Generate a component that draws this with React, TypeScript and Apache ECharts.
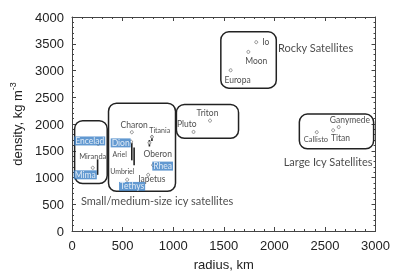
import React, { useEffect, useRef } from 'react';
import * as echarts from 'echarts';

// Satellite points (radius km, density kg m^-3)
const moonNames = ['Io', 'Moon', 'Europa', 'Triton', 'Pluto', 'Ganymede', 'Titan', 'Callisto', 'Charon', 'Dione', 'Tethys', 'Rhea', 'Iapetus', 'Enceladus', 'Mimas', 'Titania', 'Oberon'];
const moonRadius = [1821, 1743, 1568, 1364, 1201, 2636, 2581, 2419, 591, 584, 545, 802, 753, 260, 205, 790, 765];
const moonDensity = [3529, 3348, 3004, 2063, 1852, 1942, 1882, 1846, 1846, 1670, 959, 1231, 1050, 1629, 1182, 1760, 1650];

// Vertical uncertainty bars
const barRadius = [253, 591, 614, 765, 790];
const barLow = [1050, 1321, 1231, 1580, 1680];
const barHigh = [1340, 1652, 1562, 1700, 1790];

// Group boxes (data coords)
const groupLeft = [26, 361, 1032, 1471, 2247];
const groupRight = [348, 1023, 1646, 2019, 2981];
const groupTop = [2063, 2389, 2366, 3723, 2185];
const groupBottom = [887, 742, 1732, 2670, 1537];

// Point name labels (data coords)
const labelNames = ['Io', 'Moon', 'Europa', 'Triton', 'Pluto', 'Ganymede', 'Titan', 'Callisto', 'Charon', 'Titania', 'Oberon', 'Ariel', 'Umbriel', 'Iapetus', 'Miranda'];
const labelX = [1880, 1821, 1636, 1339, 1135, 2747, 2654, 2411, 614, 867, 847, 472, 497, 789, 205];
const labelY = [3529, 3186, 2824, 2214, 1991, 2082, 1738, 1701, 1973, 1882, 1430, 1448, 1128, 977, 1399];

// Highlighted labels
const hiNames = ['Encelad', 'Dion', 'Mima', 'Tethys', 'Rhea'];
const hiX = [175, 481, 131, 594, 896];
const hiY = [1683, 1647, 1050, 833, 1213];

// Group titles
const groupNames = ['Rocky Satellites', 'Large Icy Satellites', 'Small/medium-size icy satellites'];
const groupX = [2036, 2971, 88];
const groupY = [3421, 1303, 579];
const groupAlign = ['left', 'right', 'left'];

const smallFont: Record<string, number> = { Titania: 7, Umbriel: 7, Ariel: 7, Miranda: 7.5, Callisto: 7.5 };

export default function App() {
  const ref = useRef<HTMLDivElement>(null);
  useEffect(() => {
    if (!ref.current) return;
    const chart = echarts.init(ref.current, undefined, { renderer: 'svg' });
    const axisColor = '#444';
    const tickFont = 'Liberation Sans, Arial, sans-serif';
    const labelFont = 'Lato, Open Sans, sans-serif';
    const fmt = (v: number) => String(v);
    const baseX = {
      type: 'value', min: 0, max: 3000, interval: 500,
      axisLine: { show: true, onZero: false, lineStyle: { color: axisColor, width: 1 } },
      axisTick: { show: true, inside: true, length: 4, lineStyle: { color: axisColor, width: 1 } },
      minorTick: { show: true, splitNumber: 5, length: 2, lineStyle: { color: axisColor, width: 1 } },
      splitLine: { show: false },
    };
    const baseY = {
      type: 'value', min: 0, max: 4000, interval: 500,
      axisLine: { show: true, onZero: false, lineStyle: { color: axisColor, width: 1 } },
      axisTick: { show: true, inside: true, length: 4, lineStyle: { color: axisColor, width: 1 } },
      minorTick: { show: true, splitNumber: 5, length: 2, lineStyle: { color: axisColor, width: 1 } },
      splitLine: { show: false },
    };
    chart.setOption({
      animation: false,
      grid: { left: 70, right: 15, top: 17, bottom: 38 },
      xAxis: [
        {
          ...baseX, position: 'bottom',
          axisLabel: { fontSize: 13, color: '#222', fontFamily: tickFont, margin: 8, formatter: fmt },
          name: 'radius, km', nameLocation: 'middle', nameGap: 27,
          nameTextStyle: { fontSize: 13, color: '#222', fontFamily: tickFont },
        },
        { ...baseX, position: 'top', axisLabel: { show: false } },
      ],
      yAxis: [
        {
          ...baseY, position: 'left',
          axisLabel: { fontSize: 13, color: '#222', fontFamily: tickFont, margin: 8, formatter: fmt },
          name: '{a|density, kg m}{s|-3}', nameLocation: 'middle', nameGap: 48,
          nameTextStyle: {
            fontSize: 13, color: '#222', fontFamily: tickFont,
            rich: {
              a: { fontSize: 13, color: '#222', fontFamily: tickFont, verticalAlign: 'bottom' },
              s: { fontSize: 9, color: '#222', fontFamily: tickFont, verticalAlign: 'bottom', padding: [0, 0, 7, 0] },
            },
          },
        },
        { ...baseY, position: 'right', axisLabel: { show: false } },
      ],
      series: [
        {
          type: 'custom', clip: false, silent: true,
          data: groupLeft.map((l, i) => [l, groupTop[i], groupRight[i], groupBottom[i]]),
          renderItem: (params: any, api: any) => {
            const p1 = api.coord([api.value(0), api.value(1)]);
            const p2 = api.coord([api.value(2), api.value(3)]);
            return {
              type: 'rect',
              shape: { x: p1[0], y: p1[1], width: p2[0] - p1[0], height: p2[1] - p1[1], r: 8 },
              style: { fill: 'none', stroke: '#222', lineWidth: 1.5 },
            };
          },
        },
        {
          type: 'custom', clip: false, silent: true,
          data: barRadius.map((x, i) => [x, barLow[i], barHigh[i]]),
          renderItem: (params: any, api: any) => {
            const p1 = api.coord([api.value(0), api.value(1)]);
            const p2 = api.coord([api.value(0), api.value(2)]);
            return {
              type: 'line',
              shape: { x1: p1[0], y1: p1[1], x2: p2[0], y2: p2[1] },
              style: { stroke: '#222', lineWidth: 1.6 },
            };
          },
        },
        {
          type: 'scatter', symbol: 'circle', symbolSize: 3,
          itemStyle: { color: '#fff', borderColor: '#777', borderWidth: 1 },
          data: moonNames.map((n, i) => ({ name: n, value: [moonRadius[i], moonDensity[i]] })),
        },
        {
          type: 'scatter', symbolSize: 0, silent: true,
          data: labelNames.map((n, i) => ({
            name: n, value: [labelX[i], labelY[i]],
            label: { align: n === 'Io' ? 'left' : 'center', fontSize: smallFont[n] || 8.5 },
          })),
          label: { show: true, position: 'inside', formatter: '{b}', color: '#1a1a1a', fontFamily: labelFont, verticalAlign: 'middle' },
        },
        {
          type: 'scatter', symbolSize: 0, silent: true,
          data: hiNames.map((n, i) => ({ name: n, value: [hiX[i], hiY[i]] })),
          label: {
            show: true, position: 'inside', formatter: '{b}', color: '#fff', fontSize: 8.5,
            fontFamily: labelFont, backgroundColor: '#3b7fc6', padding: [0, 1, 0, 1], align: 'center', verticalAlign: 'middle',
          },
        },
        {
          type: 'scatter', symbolSize: 0, silent: true,
          data: groupNames.map((n, i) => ({ name: n, value: [groupX[i], groupY[i]], label: { align: groupAlign[i] } })),
          label: { show: true, position: 'inside', formatter: '{b}', color: '#1a1a1a', fontSize: 11, fontFamily: labelFont, verticalAlign: 'middle' },
        },
      ],
    });
    return () => chart.dispose();
  }, []);
  return <div ref={ref} style={{ position: 'fixed', left: 0, top: 0, width: 393, height: 276 }} />;
}
